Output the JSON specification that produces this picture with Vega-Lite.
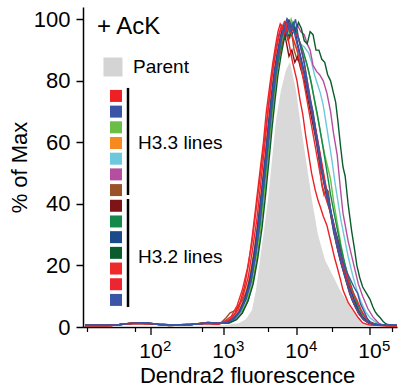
{
"$schema": "https://vega.github.io/schema/vega-lite/v6.json",
"width": 314, "height": 320,
"autosize": {"type": "none"},
"padding": {"left": 83, "top": 7, "right": 2, "bottom": 65},
"background": "white",
"config": {"view": {"stroke": null}, "font": "Liberation Sans"},
"datasets": {
"parent": [
{"x":1.096,"y":0.2},{"x":2.5,"y":0.3},{"x":3.0,"y":0.6},{"x":3.2,"y":1.2},{"x":3.3,"y":2.5},{"x":3.384,"y":5.5},{"x":3.438,"y":12},{"x":3.493,"y":21.8},{"x":3.548,"y":31.5},{"x":3.603,"y":41.3},{"x":3.658,"y":54.3},{"x":3.712,"y":67.3},{"x":3.781,"y":77},{"x":3.849,"y":83.5},{"x":3.904,"y":86.1},{"x":3.986,"y":77},{"x":4.041,"y":67.3},{"x":4.123,"y":54.3},{"x":4.205,"y":41.3},{"x":4.288,"y":29.9},{"x":4.384,"y":21.8},{"x":4.589,"y":12},{"x":4.753,"y":5.5},{"x":4.89,"y":1.6},{"x":5.027,"y":0.3},{"x":5.37,"y":0.2}
],
"curves": [
{"s":"H3.3-5","x":1.096,"y":0.6},{"s":"H3.3-5","x":1.5,"y":0.6},{"s":"H3.3-5","x":1.68,"y":1.1},{"s":"H3.3-5","x":1.9,"y":1.4},{"s":"H3.3-5","x":2.1,"y":0.9},{"s":"H3.3-5","x":2.3,"y":0.7},{"s":"H3.3-5","x":2.6,"y":0.9},{"s":"H3.3-5","x":2.8,"y":1.4},{"s":"H3.3-5","x":2.95,"y":1.2},
{"s":"H3.3-5","x":3.06,"y":1.4},{"s":"H3.3-5","x":3.16,"y":2.5},{"s":"H3.3-5","x":3.24,"y":4.5},{"s":"H3.3-5","x":3.32,"y":8.5},{"s":"H3.3-5","x":3.39,"y":15},{"s":"H3.3-5","x":3.45,"y":24},{"s":"H3.3-5","x":3.5,"y":34},{"s":"H3.3-5","x":3.55,"y":45},{"s":"H3.3-5","x":3.6,"y":56},{"s":"H3.3-5","x":3.64,"y":66},{"s":"H3.3-5","x":3.68,"y":75},{"s":"H3.3-5","x":3.72,"y":83},{"s":"H3.3-5","x":3.76,"y":89},{"s":"H3.3-5","x":3.8,"y":94},{"s":"H3.3-5","x":3.84,"y":97},{"s":"H3.3-5","x":3.88,"y":99},{"s":"H3.3-5","x":3.92,"y":96},{"s":"H3.3-5","x":3.96,"y":98},{"s":"H3.3-5","x":4.0,"y":95},
{"s":"H3.3-5","x":4.05,"y":92},{"s":"H3.3-5","x":4.1,"y":91},{"s":"H3.3-5","x":4.16,"y":89},{"s":"H3.3-5","x":4.2,"y":86},{"s":"H3.3-5","x":4.24,"y":82},{"s":"H3.3-5","x":4.28,"y":79},{"s":"H3.3-5","x":4.32,"y":76},{"s":"H3.3-5","x":4.36,"y":72},{"s":"H3.3-5","x":4.4,"y":66},{"s":"H3.3-5","x":4.44,"y":60},{"s":"H3.3-5","x":4.48,"y":54},{"s":"H3.3-5","x":4.52,"y":47},{"s":"H3.3-5","x":4.56,"y":41},{"s":"H3.3-5","x":4.6,"y":35},{"s":"H3.3-5","x":4.65,"y":29},{"s":"H3.3-5","x":4.7,"y":23},{"s":"H3.3-5","x":4.76,"y":17},{"s":"H3.3-5","x":4.82,"y":12},{"s":"H3.3-5","x":4.88,"y":8},{"s":"H3.3-5","x":4.94,"y":5},{"s":"H3.3-5","x":5.0,"y":3},{"s":"H3.3-5","x":5.08,"y":1.5},{"s":"H3.3-5","x":5.16,"y":0.7},{"s":"H3.3-5","x":5.37,"y":0.4},

{"s":"H3.3-6","x":1.096,"y":0.4},{"s":"H3.3-6","x":1.4,"y":0.4},{"s":"H3.3-6","x":1.58,"y":0.8},{"s":"H3.3-6","x":1.75,"y":1.3},{"s":"H3.3-6","x":1.98,"y":1.1},{"s":"H3.3-6","x":2.25,"y":0.5},{"s":"H3.3-6","x":2.55,"y":0.8},{"s":"H3.3-6","x":2.78,"y":1.5},{"s":"H3.3-6","x":2.93,"y":1.2},
{"s":"H3.3-6","x":3.07,"y":1.4},{"s":"H3.3-6","x":3.17,"y":2.5},{"s":"H3.3-6","x":3.25,"y":4.5},{"s":"H3.3-6","x":3.33,"y":8.5},{"s":"H3.3-6","x":3.4,"y":15},{"s":"H3.3-6","x":3.46,"y":24},{"s":"H3.3-6","x":3.51,"y":34},{"s":"H3.3-6","x":3.56,"y":45},{"s":"H3.3-6","x":3.61,"y":57},{"s":"H3.3-6","x":3.65,"y":67},{"s":"H3.3-6","x":3.69,"y":76},{"s":"H3.3-6","x":3.73,"y":84},{"s":"H3.3-6","x":3.77,"y":90},{"s":"H3.3-6","x":3.81,"y":95},{"s":"H3.3-6","x":3.85,"y":98},{"s":"H3.3-6","x":3.89,"y":96},{"s":"H3.3-6","x":3.93,"y":99},{"s":"H3.3-6","x":3.97,"y":97},{"s":"H3.3-6","x":4.01,"y":98},
{"s":"H3.3-6","x":4.05,"y":96},{"s":"H3.3-6","x":4.1,"y":95},{"s":"H3.3-6","x":4.14,"y":92},{"s":"H3.3-6","x":4.18,"y":90},{"s":"H3.3-6","x":4.22,"y":85},{"s":"H3.3-6","x":4.27,"y":83},{"s":"H3.3-6","x":4.31,"y":82},{"s":"H3.3-6","x":4.36,"y":80},{"s":"H3.3-6","x":4.41,"y":76},{"s":"H3.3-6","x":4.46,"y":70},{"s":"H3.3-6","x":4.5,"y":63},{"s":"H3.3-6","x":4.55,"y":56},{"s":"H3.3-6","x":4.59,"y":46},{"s":"H3.3-6","x":4.63,"y":37},{"s":"H3.3-6","x":4.7,"y":28},{"s":"H3.3-6","x":4.77,"y":21},{"s":"H3.3-6","x":4.84,"y":14},{"s":"H3.3-6","x":4.9,"y":10},{"s":"H3.3-6","x":4.97,"y":6},{"s":"H3.3-6","x":5.04,"y":3.3},{"s":"H3.3-6","x":5.12,"y":1.2},{"s":"H3.3-6","x":5.2,"y":0.5},{"s":"H3.3-6","x":5.37,"y":0.4},

{"s":"H3.3-3","x":1.096,"y":0.4},{"s":"H3.3-3","x":1.4,"y":0.4},{"s":"H3.3-3","x":1.58,"y":0.8},{"s":"H3.3-3","x":1.75,"y":1.3},{"s":"H3.3-3","x":1.98,"y":1.1},{"s":"H3.3-3","x":2.25,"y":0.5},{"s":"H3.3-3","x":2.55,"y":0.8},{"s":"H3.3-3","x":2.78,"y":1.5},{"s":"H3.3-3","x":2.93,"y":1.2},
{"s":"H3.3-3","x":3.05,"y":1.4},{"s":"H3.3-3","x":3.15,"y":2.5},{"s":"H3.3-3","x":3.23,"y":4.5},{"s":"H3.3-3","x":3.31,"y":8},{"s":"H3.3-3","x":3.38,"y":14},{"s":"H3.3-3","x":3.44,"y":22},{"s":"H3.3-3","x":3.5,"y":32},{"s":"H3.3-3","x":3.55,"y":43},{"s":"H3.3-3","x":3.6,"y":55},{"s":"H3.3-3","x":3.64,"y":65},{"s":"H3.3-3","x":3.68,"y":74},{"s":"H3.3-3","x":3.72,"y":82},{"s":"H3.3-3","x":3.76,"y":89},{"s":"H3.3-3","x":3.8,"y":94},{"s":"H3.3-3","x":3.84,"y":98},{"s":"H3.3-3","x":3.88,"y":96},{"s":"H3.3-3","x":3.92,"y":100},{"s":"H3.3-3","x":3.96,"y":97},{"s":"H3.3-3","x":4.0,"y":95},
{"s":"H3.3-3","x":4.05,"y":92},{"s":"H3.3-3","x":4.1,"y":88},{"s":"H3.3-3","x":4.15,"y":84},{"s":"H3.3-3","x":4.2,"y":79},{"s":"H3.3-3","x":4.25,"y":72},{"s":"H3.3-3","x":4.3,"y":66},{"s":"H3.3-3","x":4.34,"y":61},{"s":"H3.3-3","x":4.38,"y":56},{"s":"H3.3-3","x":4.42,"y":52},{"s":"H3.3-3","x":4.46,"y":48},{"s":"H3.3-3","x":4.5,"y":41},{"s":"H3.3-3","x":4.55,"y":34},{"s":"H3.3-3","x":4.6,"y":27},{"s":"H3.3-3","x":4.65,"y":21},{"s":"H3.3-3","x":4.7,"y":16},{"s":"H3.3-3","x":4.76,"y":11.5},{"s":"H3.3-3","x":4.82,"y":7.5},{"s":"H3.3-3","x":4.88,"y":4.5},{"s":"H3.3-3","x":4.95,"y":2.5},{"s":"H3.3-3","x":5.02,"y":1.3},{"s":"H3.3-3","x":5.1,"y":0.6},{"s":"H3.3-3","x":5.37,"y":0.4},

{"s":"H3.3-4","x":1.096,"y":0.5},{"s":"H3.3-4","x":1.45,"y":0.5},{"s":"H3.3-4","x":1.62,"y":0.9},{"s":"H3.3-4","x":1.8,"y":1.2},{"s":"H3.3-4","x":2.0,"y":1.0},{"s":"H3.3-4","x":2.2,"y":0.6},{"s":"H3.3-4","x":2.5,"y":0.7},{"s":"H3.3-4","x":2.75,"y":1.2},{"s":"H3.3-4","x":2.92,"y":1.0},
{"s":"H3.3-4","x":3.02,"y":1.6},{"s":"H3.3-4","x":3.12,"y":2.8},{"s":"H3.3-4","x":3.2,"y":5},{"s":"H3.3-4","x":3.27,"y":9},{"s":"H3.3-4","x":3.34,"y":15},{"s":"H3.3-4","x":3.4,"y":23},{"s":"H3.3-4","x":3.46,"y":33},{"s":"H3.3-4","x":3.51,"y":44},{"s":"H3.3-4","x":3.56,"y":55},{"s":"H3.3-4","x":3.6,"y":65},{"s":"H3.3-4","x":3.64,"y":74},{"s":"H3.3-4","x":3.68,"y":82},{"s":"H3.3-4","x":3.72,"y":88},{"s":"H3.3-4","x":3.76,"y":93},{"s":"H3.3-4","x":3.8,"y":97},{"s":"H3.3-4","x":3.84,"y":94},{"s":"H3.3-4","x":3.88,"y":99},{"s":"H3.3-4","x":3.92,"y":96},{"s":"H3.3-4","x":3.96,"y":93},
{"s":"H3.3-4","x":4.0,"y":90},{"s":"H3.3-4","x":4.05,"y":86},{"s":"H3.3-4","x":4.1,"y":82},{"s":"H3.3-4","x":4.15,"y":76},{"s":"H3.3-4","x":4.2,"y":70},{"s":"H3.3-4","x":4.25,"y":64},{"s":"H3.3-4","x":4.3,"y":57},{"s":"H3.3-4","x":4.35,"y":50},{"s":"H3.3-4","x":4.4,"y":44},{"s":"H3.3-4","x":4.44,"y":39},{"s":"H3.3-4","x":4.48,"y":34},{"s":"H3.3-4","x":4.53,"y":28},{"s":"H3.3-4","x":4.58,"y":23},{"s":"H3.3-4","x":4.63,"y":19},{"s":"H3.3-4","x":4.68,"y":15},{"s":"H3.3-4","x":4.73,"y":11},{"s":"H3.3-4","x":4.78,"y":8},{"s":"H3.3-4","x":4.84,"y":5},{"s":"H3.3-4","x":4.9,"y":3},{"s":"H3.3-4","x":4.97,"y":1.6},{"s":"H3.3-4","x":5.05,"y":0.8},{"s":"H3.3-4","x":5.37,"y":0.4},

{"s":"H3.3-7","x":1.096,"y":0.5},{"s":"H3.3-7","x":1.45,"y":0.5},{"s":"H3.3-7","x":1.62,"y":0.9},{"s":"H3.3-7","x":1.8,"y":1.2},{"s":"H3.3-7","x":2.0,"y":1.0},{"s":"H3.3-7","x":2.2,"y":0.6},{"s":"H3.3-7","x":2.5,"y":0.7},{"s":"H3.3-7","x":2.75,"y":1.2},{"s":"H3.3-7","x":2.92,"y":1.0},
{"s":"H3.3-7","x":2.97,"y":1.6},{"s":"H3.3-7","x":3.03,"y":3},{"s":"H3.3-7","x":3.08,"y":4.5},{"s":"H3.3-7","x":3.12,"y":5},{"s":"H3.3-7","x":3.16,"y":5.5},{"s":"H3.3-7","x":3.2,"y":7},{"s":"H3.3-7","x":3.26,"y":9},{"s":"H3.3-7","x":3.32,"y":12},{"s":"H3.3-7","x":3.38,"y":19},{"s":"H3.3-7","x":3.44,"y":28},{"s":"H3.3-7","x":3.5,"y":38},{"s":"H3.3-7","x":3.55,"y":48},{"s":"H3.3-7","x":3.6,"y":59},{"s":"H3.3-7","x":3.64,"y":68},{"s":"H3.3-7","x":3.68,"y":76},{"s":"H3.3-7","x":3.72,"y":83},{"s":"H3.3-7","x":3.76,"y":88},{"s":"H3.3-7","x":3.8,"y":92},{"s":"H3.3-7","x":3.84,"y":96},{"s":"H3.3-7","x":3.88,"y":93},{"s":"H3.3-7","x":3.92,"y":97},{"s":"H3.3-7","x":3.96,"y":90},{"s":"H3.3-7","x":4.0,"y":87},
{"s":"H3.3-7","x":4.04,"y":86},{"s":"H3.3-7","x":4.08,"y":84},{"s":"H3.3-7","x":4.12,"y":80},{"s":"H3.3-7","x":4.16,"y":76},{"s":"H3.3-7","x":4.2,"y":71},{"s":"H3.3-7","x":4.24,"y":66},{"s":"H3.3-7","x":4.28,"y":60},{"s":"H3.3-7","x":4.31,"y":52},{"s":"H3.3-7","x":4.34,"y":46},{"s":"H3.3-7","x":4.37,"y":43},{"s":"H3.3-7","x":4.4,"y":45},{"s":"H3.3-7","x":4.43,"y":44},{"s":"H3.3-7","x":4.46,"y":38},{"s":"H3.3-7","x":4.5,"y":33},{"s":"H3.3-7","x":4.54,"y":30},{"s":"H3.3-7","x":4.58,"y":27},{"s":"H3.3-7","x":4.62,"y":22},{"s":"H3.3-7","x":4.67,"y":17},{"s":"H3.3-7","x":4.72,"y":13},{"s":"H3.3-7","x":4.78,"y":9},{"s":"H3.3-7","x":4.84,"y":5.5},{"s":"H3.3-7","x":4.9,"y":3},{"s":"H3.3-7","x":4.97,"y":1.6},{"s":"H3.3-7","x":5.05,"y":0.8},{"s":"H3.3-7","x":5.37,"y":0.4},

{"s":"H3.2-1","x":1.096,"y":0.6},{"s":"H3.2-1","x":1.5,"y":0.6},{"s":"H3.2-1","x":1.68,"y":1.1},{"s":"H3.2-1","x":1.9,"y":1.4},{"s":"H3.2-1","x":2.1,"y":0.9},{"s":"H3.2-1","x":2.3,"y":0.7},{"s":"H3.2-1","x":2.6,"y":0.9},{"s":"H3.2-1","x":2.8,"y":1.4},{"s":"H3.2-1","x":2.95,"y":1.2},
{"s":"H3.2-1","x":3.04,"y":1.5},{"s":"H3.2-1","x":3.13,"y":2.7},{"s":"H3.2-1","x":3.21,"y":5},{"s":"H3.2-1","x":3.29,"y":9},{"s":"H3.2-1","x":3.36,"y":15},{"s":"H3.2-1","x":3.42,"y":24},{"s":"H3.2-1","x":3.47,"y":33},{"s":"H3.2-1","x":3.52,"y":44},{"s":"H3.2-1","x":3.57,"y":55},{"s":"H3.2-1","x":3.61,"y":65},{"s":"H3.2-1","x":3.65,"y":74},{"s":"H3.2-1","x":3.69,"y":82},{"s":"H3.2-1","x":3.73,"y":88},{"s":"H3.2-1","x":3.77,"y":93},{"s":"H3.2-1","x":3.81,"y":97},{"s":"H3.2-1","x":3.85,"y":93},{"s":"H3.2-1","x":3.89,"y":88},{"s":"H3.2-1","x":3.93,"y":90},{"s":"H3.2-1","x":3.97,"y":86},
{"s":"H3.2-1","x":4.01,"y":88},{"s":"H3.2-1","x":4.05,"y":84},{"s":"H3.2-1","x":4.1,"y":80},{"s":"H3.2-1","x":4.15,"y":74},{"s":"H3.2-1","x":4.2,"y":68},{"s":"H3.2-1","x":4.25,"y":62},{"s":"H3.2-1","x":4.3,"y":55},{"s":"H3.2-1","x":4.35,"y":49},{"s":"H3.2-1","x":4.4,"y":43},{"s":"H3.2-1","x":4.45,"y":38},{"s":"H3.2-1","x":4.5,"y":32},{"s":"H3.2-1","x":4.55,"y":26},{"s":"H3.2-1","x":4.6,"y":21},{"s":"H3.2-1","x":4.66,"y":16},{"s":"H3.2-1","x":4.72,"y":11},{"s":"H3.2-1","x":4.78,"y":7.5},{"s":"H3.2-1","x":4.84,"y":4.5},{"s":"H3.2-1","x":4.9,"y":2.6},{"s":"H3.2-1","x":4.98,"y":1.3},{"s":"H3.2-1","x":5.07,"y":0.6},{"s":"H3.2-1","x":5.37,"y":0.4},

{"s":"H3.2-2","x":1.096,"y":0.4},{"s":"H3.2-2","x":1.4,"y":0.4},{"s":"H3.2-2","x":1.58,"y":0.8},{"s":"H3.2-2","x":1.75,"y":1.3},{"s":"H3.2-2","x":1.98,"y":1.1},{"s":"H3.2-2","x":2.25,"y":0.5},{"s":"H3.2-2","x":2.55,"y":0.8},{"s":"H3.2-2","x":2.78,"y":1.5},{"s":"H3.2-2","x":2.93,"y":1.2},
{"s":"H3.2-2","x":3.05,"y":1.5},{"s":"H3.2-2","x":3.14,"y":2.7},{"s":"H3.2-2","x":3.22,"y":5},{"s":"H3.2-2","x":3.3,"y":9},{"s":"H3.2-2","x":3.37,"y":15},{"s":"H3.2-2","x":3.43,"y":23},{"s":"H3.2-2","x":3.49,"y":33},{"s":"H3.2-2","x":3.54,"y":44},{"s":"H3.2-2","x":3.59,"y":55},{"s":"H3.2-2","x":3.63,"y":65},{"s":"H3.2-2","x":3.67,"y":74},{"s":"H3.2-2","x":3.71,"y":82},{"s":"H3.2-2","x":3.75,"y":88},{"s":"H3.2-2","x":3.79,"y":94},{"s":"H3.2-2","x":3.83,"y":98},{"s":"H3.2-2","x":3.87,"y":100},{"s":"H3.2-2","x":3.91,"y":97},{"s":"H3.2-2","x":3.95,"y":99},{"s":"H3.2-2","x":3.99,"y":96},
{"s":"H3.2-2","x":4.03,"y":93},{"s":"H3.2-2","x":4.08,"y":90},{"s":"H3.2-2","x":4.13,"y":86},{"s":"H3.2-2","x":4.18,"y":81},{"s":"H3.2-2","x":4.23,"y":75},{"s":"H3.2-2","x":4.28,"y":69},{"s":"H3.2-2","x":4.33,"y":62},{"s":"H3.2-2","x":4.38,"y":55},{"s":"H3.2-2","x":4.42,"y":49},{"s":"H3.2-2","x":4.46,"y":43},{"s":"H3.2-2","x":4.5,"y":38},{"s":"H3.2-2","x":4.55,"y":32},{"s":"H3.2-2","x":4.6,"y":26},{"s":"H3.2-2","x":4.65,"y":21},{"s":"H3.2-2","x":4.7,"y":16.5},{"s":"H3.2-2","x":4.76,"y":12},{"s":"H3.2-2","x":4.82,"y":8},{"s":"H3.2-2","x":4.88,"y":5},{"s":"H3.2-2","x":4.94,"y":3},{"s":"H3.2-2","x":5.01,"y":1.6},{"s":"H3.2-2","x":5.1,"y":0.8},{"s":"H3.2-2","x":5.37,"y":0.4},

{"s":"H3.2-4","x":1.096,"y":0.6},{"s":"H3.2-4","x":1.5,"y":0.6},{"s":"H3.2-4","x":1.68,"y":1.1},{"s":"H3.2-4","x":1.9,"y":1.4},{"s":"H3.2-4","x":2.1,"y":0.9},{"s":"H3.2-4","x":2.3,"y":0.7},{"s":"H3.2-4","x":2.6,"y":0.9},{"s":"H3.2-4","x":2.8,"y":1.4},{"s":"H3.2-4","x":2.95,"y":1.2},
{"s":"H3.2-4","x":3.07,"y":1.3},{"s":"H3.2-4","x":3.17,"y":2.4},{"s":"H3.2-4","x":3.25,"y":4.5},{"s":"H3.2-4","x":3.33,"y":8.5},{"s":"H3.2-4","x":3.4,"y":14},{"s":"H3.2-4","x":3.46,"y":22},{"s":"H3.2-4","x":3.52,"y":32},{"s":"H3.2-4","x":3.57,"y":43},{"s":"H3.2-4","x":3.62,"y":55},{"s":"H3.2-4","x":3.66,"y":65},{"s":"H3.2-4","x":3.7,"y":74},{"s":"H3.2-4","x":3.74,"y":82},{"s":"H3.2-4","x":3.78,"y":88},{"s":"H3.2-4","x":3.82,"y":93},{"s":"H3.2-4","x":3.86,"y":96},{"s":"H3.2-4","x":3.9,"y":94},{"s":"H3.2-4","x":3.94,"y":98},{"s":"H3.2-4","x":3.98,"y":96},{"s":"H3.2-4","x":4.02,"y":99},{"s":"H3.2-4","x":4.06,"y":97},{"s":"H3.2-4","x":4.1,"y":93},{"s":"H3.2-4","x":4.14,"y":92},{"s":"H3.2-4","x":4.18,"y":96},{"s":"H3.2-4","x":4.22,"y":95},{"s":"H3.2-4","x":4.26,"y":90},{"s":"H3.2-4","x":4.3,"y":90},{"s":"H3.2-4","x":4.34,"y":87},{"s":"H3.2-4","x":4.38,"y":86},{"s":"H3.2-4","x":4.42,"y":82},{"s":"H3.2-4","x":4.46,"y":80},{"s":"H3.2-4","x":4.5,"y":76},{"s":"H3.2-4","x":4.53,"y":73},{"s":"H3.2-4","x":4.56,"y":67},{"s":"H3.2-4","x":4.6,"y":58},{"s":"H3.2-4","x":4.63,"y":52},{"s":"H3.2-4","x":4.66,"y":49},{"s":"H3.2-4","x":4.7,"y":40},{"s":"H3.2-4","x":4.75,"y":31},{"s":"H3.2-4","x":4.79,"y":25},{"s":"H3.2-4","x":4.82,"y":20},{"s":"H3.2-4","x":4.86,"y":16},{"s":"H3.2-4","x":4.9,"y":13},{"s":"H3.2-4","x":4.95,"y":11},{"s":"H3.2-4","x":5.0,"y":9},{"s":"H3.2-4","x":5.04,"y":6.5},{"s":"H3.2-4","x":5.07,"y":5},{"s":"H3.2-4","x":5.1,"y":4},{"s":"H3.2-4","x":5.14,"y":3},{"s":"H3.2-4","x":5.18,"y":1.8},{"s":"H3.2-4","x":5.22,"y":1},{"s":"H3.2-4","x":5.3,"y":0.4},{"s":"H3.2-4","x":5.37,"y":0.3},

{"s":"H3.2-3","x":1.096,"y":0.5},{"s":"H3.2-3","x":1.45,"y":0.5},{"s":"H3.2-3","x":1.62,"y":0.9},{"s":"H3.2-3","x":1.8,"y":1.2},{"s":"H3.2-3","x":2.0,"y":1.0},{"s":"H3.2-3","x":2.2,"y":0.6},{"s":"H3.2-3","x":2.5,"y":0.7},{"s":"H3.2-3","x":2.75,"y":1.2},{"s":"H3.2-3","x":2.92,"y":1.0},
{"s":"H3.2-3","x":3.04,"y":1.6},{"s":"H3.2-3","x":3.13,"y":2.8},{"s":"H3.2-3","x":3.21,"y":5},{"s":"H3.2-3","x":3.29,"y":9.5},{"s":"H3.2-3","x":3.36,"y":16},{"s":"H3.2-3","x":3.42,"y":25},{"s":"H3.2-3","x":3.47,"y":35},{"s":"H3.2-3","x":3.52,"y":45},{"s":"H3.2-3","x":3.57,"y":56},{"s":"H3.2-3","x":3.61,"y":66},{"s":"H3.2-3","x":3.65,"y":75},{"s":"H3.2-3","x":3.69,"y":83},{"s":"H3.2-3","x":3.73,"y":89},{"s":"H3.2-3","x":3.77,"y":94},{"s":"H3.2-3","x":3.81,"y":98},{"s":"H3.2-3","x":3.85,"y":96},{"s":"H3.2-3","x":3.89,"y":100},{"s":"H3.2-3","x":3.93,"y":95},{"s":"H3.2-3","x":3.97,"y":97},
{"s":"H3.2-3","x":4.01,"y":92},{"s":"H3.2-3","x":4.05,"y":88},{"s":"H3.2-3","x":4.1,"y":83},{"s":"H3.2-3","x":4.15,"y":77},{"s":"H3.2-3","x":4.2,"y":71},{"s":"H3.2-3","x":4.25,"y":65},{"s":"H3.2-3","x":4.3,"y":58},{"s":"H3.2-3","x":4.35,"y":51},{"s":"H3.2-3","x":4.39,"y":46},{"s":"H3.2-3","x":4.43,"y":42},{"s":"H3.2-3","x":4.47,"y":37},{"s":"H3.2-3","x":4.52,"y":32},{"s":"H3.2-3","x":4.57,"y":27},{"s":"H3.2-3","x":4.62,"y":22},{"s":"H3.2-3","x":4.67,"y":17},{"s":"H3.2-3","x":4.72,"y":13},{"s":"H3.2-3","x":4.78,"y":9},{"s":"H3.2-3","x":4.84,"y":5.5},{"s":"H3.2-3","x":4.9,"y":3.2},{"s":"H3.2-3","x":4.97,"y":1.8},{"s":"H3.2-3","x":5.05,"y":1},{"s":"H3.2-3","x":5.15,"y":0.7},{"s":"H3.2-3","x":5.37,"y":0.6},

{"s":"H3.3-1","x":1.096,"y":0.5},{"s":"H3.3-1","x":1.45,"y":0.5},{"s":"H3.3-1","x":1.62,"y":0.9},{"s":"H3.3-1","x":1.8,"y":1.2},{"s":"H3.3-1","x":2.0,"y":1.0},{"s":"H3.3-1","x":2.2,"y":0.6},{"s":"H3.3-1","x":2.5,"y":0.7},{"s":"H3.3-1","x":2.75,"y":1.2},{"s":"H3.3-1","x":2.92,"y":1.0},
{"s":"H3.3-1","x":3.0,"y":1.5},{"s":"H3.3-1","x":3.08,"y":2.5},{"s":"H3.3-1","x":3.15,"y":4.5},{"s":"H3.3-1","x":3.22,"y":8},{"s":"H3.3-1","x":3.28,"y":13},{"s":"H3.3-1","x":3.34,"y":21},{"s":"H3.3-1","x":3.39,"y":30},{"s":"H3.3-1","x":3.44,"y":40},{"s":"H3.3-1","x":3.49,"y":50},{"s":"H3.3-1","x":3.54,"y":60},{"s":"H3.3-1","x":3.58,"y":70},{"s":"H3.3-1","x":3.63,"y":79},{"s":"H3.3-1","x":3.67,"y":86},{"s":"H3.3-1","x":3.71,"y":92},{"s":"H3.3-1","x":3.74,"y":96},{"s":"H3.3-1","x":3.77,"y":98.5},{"s":"H3.3-1","x":3.8,"y":97},{"s":"H3.3-1","x":3.83,"y":99.5},{"s":"H3.3-1","x":3.86,"y":96},{"s":"H3.3-1","x":3.9,"y":91},{"s":"H3.3-1","x":3.94,"y":86},{"s":"H3.3-1","x":3.98,"y":82},
{"s":"H3.3-1","x":4.0,"y":80},{"s":"H3.3-1","x":4.04,"y":74},{"s":"H3.3-1","x":4.08,"y":69},{"s":"H3.3-1","x":4.12,"y":62},{"s":"H3.3-1","x":4.16,"y":56},{"s":"H3.3-1","x":4.2,"y":50},{"s":"H3.3-1","x":4.25,"y":44.5},{"s":"H3.3-1","x":4.29,"y":41},{"s":"H3.3-1","x":4.32,"y":39},{"s":"H3.3-1","x":4.36,"y":36},{"s":"H3.3-1","x":4.41,"y":33},{"s":"H3.3-1","x":4.45,"y":29},{"s":"H3.3-1","x":4.48,"y":26},{"s":"H3.3-1","x":4.52,"y":22},{"s":"H3.3-1","x":4.55,"y":19.5},{"s":"H3.3-1","x":4.6,"y":15},{"s":"H3.3-1","x":4.63,"y":12},{"s":"H3.3-1","x":4.7,"y":8},{"s":"H3.3-1","x":4.77,"y":5.5},{"s":"H3.3-1","x":4.84,"y":3},{"s":"H3.3-1","x":4.9,"y":1.3},{"s":"H3.3-1","x":5.0,"y":0.6},{"s":"H3.3-1","x":5.37,"y":0.3},

{"s":"H3.2-5","x":1.096,"y":0.4},{"s":"H3.2-5","x":1.4,"y":0.4},{"s":"H3.2-5","x":1.58,"y":0.8},{"s":"H3.2-5","x":1.75,"y":1.3},{"s":"H3.2-5","x":1.98,"y":1.1},{"s":"H3.2-5","x":2.25,"y":0.5},{"s":"H3.2-5","x":2.55,"y":0.8},{"s":"H3.2-5","x":2.78,"y":1.5},{"s":"H3.2-5","x":2.93,"y":1.2},
{"s":"H3.2-5","x":3.0,"y":1.8},{"s":"H3.2-5","x":3.1,"y":3.5},{"s":"H3.2-5","x":3.18,"y":7},{"s":"H3.2-5","x":3.25,"y":12},{"s":"H3.2-5","x":3.32,"y":19},{"s":"H3.2-5","x":3.38,"y":27},{"s":"H3.2-5","x":3.43,"y":36},{"s":"H3.2-5","x":3.48,"y":46},{"s":"H3.2-5","x":3.53,"y":56},{"s":"H3.2-5","x":3.58,"y":66},{"s":"H3.2-5","x":3.62,"y":74},{"s":"H3.2-5","x":3.66,"y":82},{"s":"H3.2-5","x":3.7,"y":88},{"s":"H3.2-5","x":3.74,"y":93},{"s":"H3.2-5","x":3.78,"y":97},{"s":"H3.2-5","x":3.82,"y":95},{"s":"H3.2-5","x":3.86,"y":99},{"s":"H3.2-5","x":3.9,"y":97},{"s":"H3.2-5","x":3.94,"y":94},{"s":"H3.2-5","x":3.97,"y":92},
{"s":"H3.2-5","x":4.0,"y":90},{"s":"H3.2-5","x":4.06,"y":84},{"s":"H3.2-5","x":4.12,"y":76},{"s":"H3.2-5","x":4.18,"y":68},{"s":"H3.2-5","x":4.24,"y":60},{"s":"H3.2-5","x":4.3,"y":52},{"s":"H3.2-5","x":4.36,"y":44.5},{"s":"H3.2-5","x":4.42,"y":40},{"s":"H3.2-5","x":4.49,"y":35},{"s":"H3.2-5","x":4.54,"y":29},{"s":"H3.2-5","x":4.59,"y":24},{"s":"H3.2-5","x":4.64,"y":20},{"s":"H3.2-5","x":4.69,"y":16},{"s":"H3.2-5","x":4.75,"y":12},{"s":"H3.2-5","x":4.82,"y":8.8},{"s":"H3.2-5","x":4.88,"y":5.5},{"s":"H3.2-5","x":4.96,"y":2.3},{"s":"H3.2-5","x":5.05,"y":1},{"s":"H3.2-5","x":5.15,"y":0.5},{"s":"H3.2-5","x":5.37,"y":0.3},

{"s":"H3.2-6","x":1.096,"y":0.5},{"s":"H3.2-6","x":1.45,"y":0.5},{"s":"H3.2-6","x":1.62,"y":0.9},{"s":"H3.2-6","x":1.8,"y":1.2},{"s":"H3.2-6","x":2.0,"y":1.0},{"s":"H3.2-6","x":2.2,"y":0.6},{"s":"H3.2-6","x":2.5,"y":0.7},{"s":"H3.2-6","x":2.75,"y":1.2},{"s":"H3.2-6","x":2.92,"y":1.0},
{"s":"H3.2-6","x":3.02,"y":1.7},{"s":"H3.2-6","x":3.11,"y":3},{"s":"H3.2-6","x":3.19,"y":5.5},{"s":"H3.2-6","x":3.26,"y":10},{"s":"H3.2-6","x":3.33,"y":16},{"s":"H3.2-6","x":3.39,"y":25},{"s":"H3.2-6","x":3.45,"y":35},{"s":"H3.2-6","x":3.5,"y":46},{"s":"H3.2-6","x":3.55,"y":57},{"s":"H3.2-6","x":3.59,"y":67},{"s":"H3.2-6","x":3.63,"y":76},{"s":"H3.2-6","x":3.67,"y":84},{"s":"H3.2-6","x":3.71,"y":90},{"s":"H3.2-6","x":3.75,"y":95},{"s":"H3.2-6","x":3.79,"y":98},{"s":"H3.2-6","x":3.83,"y":96},{"s":"H3.2-6","x":3.87,"y":99},{"s":"H3.2-6","x":3.91,"y":97},{"s":"H3.2-6","x":3.96,"y":96},
{"s":"H3.2-6","x":4.02,"y":94},{"s":"H3.2-6","x":4.08,"y":88},{"s":"H3.2-6","x":4.14,"y":80},{"s":"H3.2-6","x":4.2,"y":72},{"s":"H3.2-6","x":4.26,"y":64},{"s":"H3.2-6","x":4.32,"y":56},{"s":"H3.2-6","x":4.38,"y":48},{"s":"H3.2-6","x":4.44,"y":40},{"s":"H3.2-6","x":4.5,"y":33},{"s":"H3.2-6","x":4.56,"y":26},{"s":"H3.2-6","x":4.62,"y":20},{"s":"H3.2-6","x":4.68,"y":15},{"s":"H3.2-6","x":4.74,"y":10},{"s":"H3.2-6","x":4.8,"y":6.5},{"s":"H3.2-6","x":4.86,"y":4},{"s":"H3.2-6","x":4.92,"y":2.2},{"s":"H3.2-6","x":5.0,"y":1.2},{"s":"H3.2-6","x":5.1,"y":0.6},{"s":"H3.2-6","x":5.37,"y":0.4},

{"s":"H3.3-2","x":1.096,"y":0.6},{"s":"H3.3-2","x":1.5,"y":0.6},{"s":"H3.3-2","x":1.68,"y":1.1},{"s":"H3.3-2","x":1.9,"y":1.4},{"s":"H3.3-2","x":2.1,"y":0.9},{"s":"H3.3-2","x":2.3,"y":0.7},{"s":"H3.3-2","x":2.6,"y":0.9},{"s":"H3.3-2","x":2.8,"y":1.4},{"s":"H3.3-2","x":2.95,"y":1.2},
{"s":"H3.3-2","x":3.05,"y":1.6},{"s":"H3.3-2","x":3.14,"y":2.8},{"s":"H3.3-2","x":3.22,"y":5},{"s":"H3.3-2","x":3.3,"y":9},{"s":"H3.3-2","x":3.37,"y":15},{"s":"H3.3-2","x":3.43,"y":23},{"s":"H3.3-2","x":3.48,"y":32},{"s":"H3.3-2","x":3.53,"y":43},{"s":"H3.3-2","x":3.58,"y":54},{"s":"H3.3-2","x":3.62,"y":64},{"s":"H3.3-2","x":3.66,"y":73},{"s":"H3.3-2","x":3.7,"y":81},{"s":"H3.3-2","x":3.74,"y":88},{"s":"H3.3-2","x":3.78,"y":93},{"s":"H3.3-2","x":3.82,"y":97},{"s":"H3.3-2","x":3.86,"y":95},{"s":"H3.3-2","x":3.9,"y":99},{"s":"H3.3-2","x":3.94,"y":97},{"s":"H3.3-2","x":3.98,"y":100},
{"s":"H3.3-2","x":4.02,"y":94},{"s":"H3.3-2","x":4.06,"y":90},{"s":"H3.3-2","x":4.1,"y":86},{"s":"H3.3-2","x":4.14,"y":80},{"s":"H3.3-2","x":4.18,"y":74},{"s":"H3.3-2","x":4.22,"y":70},{"s":"H3.3-2","x":4.26,"y":63},{"s":"H3.3-2","x":4.3,"y":58},{"s":"H3.3-2","x":4.34,"y":51},{"s":"H3.3-2","x":4.38,"y":46},{"s":"H3.3-2","x":4.42,"y":41},{"s":"H3.3-2","x":4.46,"y":37},{"s":"H3.3-2","x":4.5,"y":31},{"s":"H3.3-2","x":4.55,"y":26},{"s":"H3.3-2","x":4.6,"y":21},{"s":"H3.3-2","x":4.65,"y":17},{"s":"H3.3-2","x":4.7,"y":13},{"s":"H3.3-2","x":4.75,"y":9},{"s":"H3.3-2","x":4.8,"y":6.5},{"s":"H3.3-2","x":4.86,"y":4},{"s":"H3.3-2","x":4.92,"y":2.3},{"s":"H3.3-2","x":5.0,"y":1.2},{"s":"H3.3-2","x":5.1,"y":0.7},{"s":"H3.3-2","x":5.2,"y":0.6},{"s":"H3.3-2","x":5.37,"y":0.6},

{"s":"H3.2-7","x":1.096,"y":0.6},{"s":"H3.2-7","x":1.5,"y":0.6},{"s":"H3.2-7","x":1.68,"y":1.1},{"s":"H3.2-7","x":1.9,"y":1.4},{"s":"H3.2-7","x":2.1,"y":0.9},{"s":"H3.2-7","x":2.3,"y":0.7},{"s":"H3.2-7","x":2.6,"y":0.9},{"s":"H3.2-7","x":2.8,"y":1.4},{"s":"H3.2-7","x":2.95,"y":1.2},
{"s":"H3.2-7","x":3.05,"y":1.5},{"s":"H3.2-7","x":3.14,"y":2.7},{"s":"H3.2-7","x":3.22,"y":5},{"s":"H3.2-7","x":3.3,"y":9},{"s":"H3.2-7","x":3.37,"y":15},{"s":"H3.2-7","x":3.43,"y":24},{"s":"H3.2-7","x":3.48,"y":34},{"s":"H3.2-7","x":3.53,"y":45},{"s":"H3.2-7","x":3.58,"y":56},{"s":"H3.2-7","x":3.62,"y":66},{"s":"H3.2-7","x":3.66,"y":75},{"s":"H3.2-7","x":3.7,"y":83},{"s":"H3.2-7","x":3.74,"y":89},{"s":"H3.2-7","x":3.78,"y":94},{"s":"H3.2-7","x":3.82,"y":97},{"s":"H3.2-7","x":3.86,"y":100},{"s":"H3.2-7","x":3.9,"y":96},{"s":"H3.2-7","x":3.94,"y":98},{"s":"H3.2-7","x":3.98,"y":94},
{"s":"H3.2-7","x":4.02,"y":90},{"s":"H3.2-7","x":4.06,"y":86},{"s":"H3.2-7","x":4.1,"y":82},{"s":"H3.2-7","x":4.15,"y":76},{"s":"H3.2-7","x":4.2,"y":70},{"s":"H3.2-7","x":4.25,"y":63},{"s":"H3.2-7","x":4.3,"y":56},{"s":"H3.2-7","x":4.34,"y":50},{"s":"H3.2-7","x":4.38,"y":46},{"s":"H3.2-7","x":4.42,"y":43},{"s":"H3.2-7","x":4.46,"y":38},{"s":"H3.2-7","x":4.5,"y":33},{"s":"H3.2-7","x":4.55,"y":28},{"s":"H3.2-7","x":4.6,"y":23},{"s":"H3.2-7","x":4.66,"y":19},{"s":"H3.2-7","x":4.72,"y":16},{"s":"H3.2-7","x":4.78,"y":13},{"s":"H3.2-7","x":4.83,"y":11},{"s":"H3.2-7","x":4.87,"y":7.5},{"s":"H3.2-7","x":4.91,"y":5.5},{"s":"H3.2-7","x":4.96,"y":3},{"s":"H3.2-7","x":5.0,"y":1.3},{"s":"H3.2-7","x":5.1,"y":0.8},{"s":"H3.2-7","x":5.2,"y":0.7},{"s":"H3.2-7","x":5.37,"y":0.7}
],
"legend": [
{"s":"H3.3-1","ly":75.1},{"s":"H3.3-2","ly":70.0},{"s":"H3.3-3","ly":64.9},{"s":"H3.3-4","ly":59.8},{"s":"H3.3-5","ly":54.7},{"s":"H3.3-6","ly":49.6},{"s":"H3.3-7","ly":44.5},
{"s":"H3.2-1","ly":39.4},{"s":"H3.2-2","ly":34.3},{"s":"H3.2-3","ly":29.2},{"s":"H3.2-4","ly":24.1},{"s":"H3.2-5","ly":19.0},{"s":"H3.2-6","ly":13.9},{"s":"H3.2-7","ly":8.8}
],
"brackets": [{"g":"H3.3 lines","y1":77.7,"y2":42.9},{"g":"H3.2 lines","y1":41.6,"y2":6.5}],
"labels": [{"label":"Parent","lx":1.753,"ly":84.5},{"label":"H3.3 lines","lx":1.822,"ly":59.8},{"label":"H3.2 lines","lx":1.822,"ly":22.75}],
"decades": [{"d":2,"e":"2"},{"d":3,"e":"3"},{"d":4,"e":"4"},{"d":5,"e":"5"}]
},
"layer": [
{"data": {"name": "parent"},
 "mark": {"type": "area", "color": "#d9d9d9"},
 "encoding": {
  "x": {"field": "x", "type": "quantitative",
   "scale": {"domain": [1.0685, 5.37], "nice": false, "zero": false},
   "axis": {"values": [1.12,1.17,1.22,1.26,1.301,1.477,1.602,1.699,1.778,1.845,1.903,1.954,2,2.301,2.477,2.602,2.699,2.778,2.845,2.903,2.954,3,3.301,3.477,3.602,3.699,3.778,3.845,3.903,3.954,4,4.301,4.477,4.602,4.699,4.778,4.845,4.903,4.954,5,5.301],
    "labels": false, "grid": false,
    "title": "Dendra2 fluorescence", "titleFontSize": 22, "titleFontWeight": "normal", "titleColor": "#000", "titlePadding": 33, "titleX": 164, "titleAlign": "center",
    "domainColor": "#000", "domainWidth": 1.5, "tickColor": "#000", "tickWidth": 1.2, "tickSize": 4.5}},
  "y": {"field": "y", "type": "quantitative",
   "scale": {"domain": [0, 104], "nice": false},
   "axis": {"values": [0,20,40,60,80,100], "title": "% of Max", "titleFontSize": 22, "titleFontWeight": "normal", "titleColor": "#000", "titlePadding": 2,
    "labelFontSize": 22, "labelColor": "#000", "labelPadding": 6, "tickSize": 7, "tickWidth": 1.5, "tickColor": "#000", "domainColor": "#000", "domainWidth": 1.5, "grid": false}}
 }},
{"data": {"name": "curves"},
 "mark": {"type": "line", "strokeWidth": 1.4},
 "encoding": {
  "x": {"field": "x", "type": "quantitative"},
  "y": {"field": "y", "type": "quantitative"},
  "color": {"field": "s", "type": "nominal", "legend": null,
   "scale": {"domain": ["H3.3-1","H3.3-2","H3.3-3","H3.3-4","H3.3-5","H3.3-6","H3.3-7","H3.2-1","H3.2-2","H3.2-3","H3.2-4","H3.2-5","H3.2-6","H3.2-7"],
    "range": ["#ed2024","#3b54a5","#6abd45","#f7891f","#6cc9dd","#b54e9f","#9b5228","#7f1416","#138a4a","#1b4a8b","#0a5c2c","#ee2a2a","#ed2530","#3b55a6"]}}
 }},
{"data": {"name": "decades"},
 "mark": {"type": "rule", "strokeWidth": 1.3, "color": "#000"},
 "encoding": {"x": {"field": "d", "type": "quantitative"}, "y": {"datum": 0, "type": "quantitative"}, "y2": {"datum": -2.6}}},
{"data": {"name": "decades"},
 "mark": {"type": "text", "text": "10", "fontSize": 21, "align": "center", "baseline": "alphabetic", "color": "#000"},
 "encoding": {"x": {"field": "d", "type": "quantitative"}, "y": {"datum": -10.1, "type": "quantitative"}}},
{"data": {"name": "decades"},
 "mark": {"type": "text", "fontSize": 15, "align": "left", "baseline": "alphabetic", "dx": 12, "color": "#000"},
 "encoding": {"x": {"field": "d", "type": "quantitative"}, "y": {"datum": -7.9, "type": "quantitative"}, "text": {"field": "e"}}},
{"data": {"name": "legend"},
 "mark": {"type": "square", "size": 144, "opacity": 1},
 "encoding": {
  "x": {"datum": 1.5205, "type": "quantitative"},
  "y": {"field": "ly", "type": "quantitative"},
  "color": {"field": "s", "type": "nominal", "legend": null}
 }},
{"data": {"values": [{"label": "Parent"}]},
 "mark": {"type": "square", "size": 361, "opacity": 1, "color": "#d4d4d4"},
 "encoding": {"x": {"datum": 1.479, "type": "quantitative"}, "y": {"datum": 84.5, "type": "quantitative"}}},
{"data": {"name": "brackets"},
 "mark": {"type": "rule", "strokeWidth": 2.5, "color": "#000"},
 "encoding": {"x": {"datum": 1.685, "type": "quantitative"}, "y": {"field": "y1", "type": "quantitative"}, "y2": {"field": "y2"}}},
{"data": {"name": "labels"},
 "mark": {"type": "text", "fontSize": 19, "align": "left", "baseline": "middle", "color": "#000"},
 "encoding": {"x": {"field": "lx", "type": "quantitative"}, "y": {"field": "ly", "type": "quantitative"}, "text": {"field": "label"}}},
{"data": {"values": [{"label": "+ AcK", "lx": 1.26, "ly": 97.5}]},
 "mark": {"type": "text", "fontSize": 24, "align": "left", "baseline": "middle", "color": "#000"},
 "encoding": {"x": {"field": "lx", "type": "quantitative"}, "y": {"field": "ly", "type": "quantitative"}, "text": {"field": "label"}}}
]
}
